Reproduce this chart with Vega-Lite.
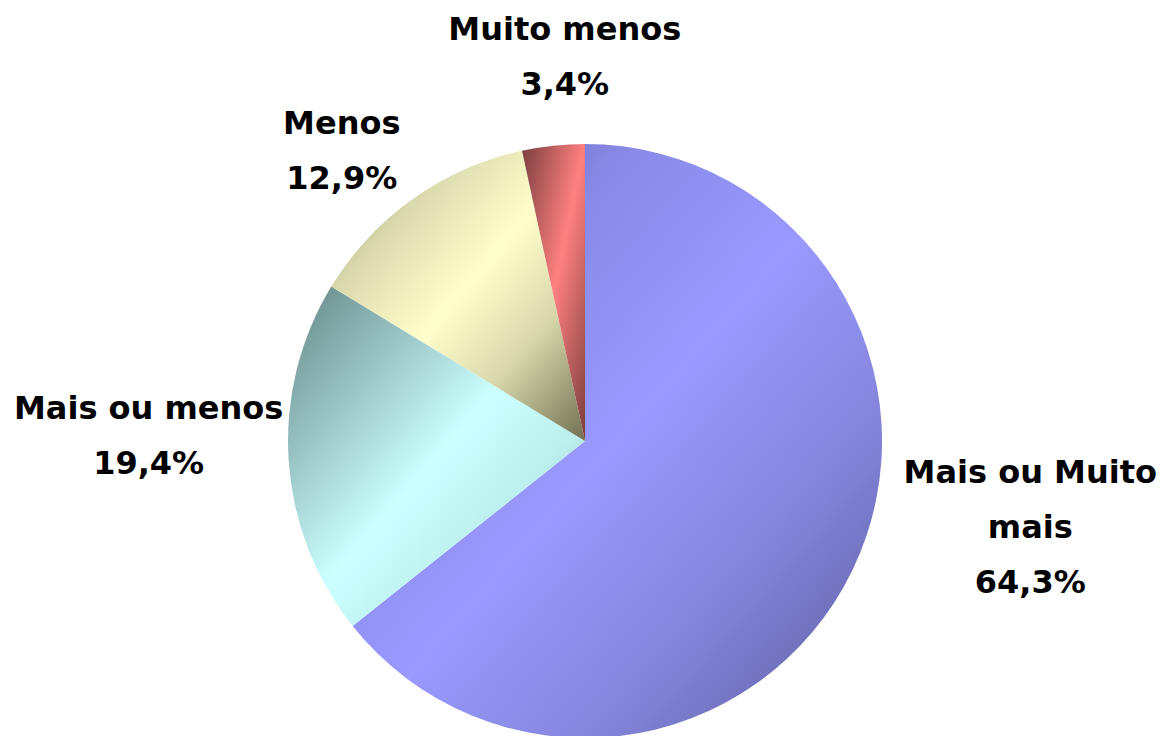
{
  "$schema": "https://vega.github.io/schema/vega-lite/v6.json",
  "autosize": {"type": "none"},
  "width": 1154,
  "height": 590,
  "padding": {"left": 8, "top": 146, "right": 0, "bottom": 0},
  "background": "white",
  "config": {
    "view": {"stroke": null},
    "text": {"font": "DejaVu Sans", "fontWeight": "bold", "fontSize": 32, "lineHeight": 55, "lineBreak": "\n", "color": "black"}
  },
  "data": {
    "values": [
      {"cat": "Mais ou Muito mais", "ord": 1, "value": 64.3, "label": "Mais ou Muito\nmais\n64,3%"},
      {"cat": "Mais ou menos", "ord": 2, "value": 19.4, "label": "Mais ou menos\n19,4%"},
      {"cat": "Menos", "ord": 3, "value": 12.9, "label": "Menos\n12,9%"},
      {"cat": "Muito menos", "ord": 4, "value": 3.4, "label": "Muito menos\n3,4%"}
    ]
  },
  "encoding": {
    "theta": {"field": "value", "type": "quantitative", "stack": true},
    "order": {"field": "ord", "type": "quantitative"}
  },
  "layer": [
    {
      "mark": {"type": "arc", "outerRadius": 297},
      "encoding": {
        "color": {
          "condition": [
            {"test": "datum.cat === 'Mais ou menos'", "value": {"gradient": "linear", "x1": 0, "y1": 0, "x2": 1, "y2": 1, "stops": [{"offset": 0, "color": "#648585"}, {"offset": 0.25, "color": "#98C2C2"}, {"offset": 0.5, "color": "#CCFFFF"}, {"offset": 0.7, "color": "#BDEEEE"}, {"offset": 1, "color": "#8AB5B5"}]}},
            {"test": "datum.cat === 'Menos'", "value": {"gradient": "linear", "x1": 0, "y1": 0, "x2": 1, "y2": 1, "stops": [{"offset": 0, "color": "#8A8A6A"}, {"offset": 0.25, "color": "#DADAAE"}, {"offset": 0.5, "color": "#FFFFCC"}, {"offset": 0.72, "color": "#D8D8AC"}, {"offset": 1, "color": "#707052"}]}},
            {"test": "datum.cat === 'Muito menos'", "value": {"gradient": "linear", "x1": 0, "y1": 0, "x2": 1, "y2": 1, "stops": [{"offset": 0, "color": "#7A3E3E"}, {"offset": 0.5, "color": "#FF8080"}, {"offset": 1, "color": "#7A3E3E"}]}}
          ],
          "value": {"gradient": "linear", "x1": 0, "y1": 0, "x2": 1, "y2": 1, "stops": [{"offset": 0, "color": "#6464AA"}, {"offset": 0.28, "color": "#8A8AEA"}, {"offset": 0.5, "color": "#9999FF"}, {"offset": 0.72, "color": "#8585DD"}, {"offset": 1, "color": "#5A5A98"}]}
        }
      }
    },
    {
      "mark": {"type": "text", "radius": 340, "dx": 139, "dy": -116},
      "encoding": {"text": {"condition": {"test": "datum.cat === 'Mais ou Muito mais'", "field": "label"}, "value": ""}}
    },
    {
      "mark": {"type": "text", "radius": 340, "dx": -97, "dy": -53},
      "encoding": {"text": {"condition": {"test": "datum.cat === 'Mais ou menos'", "field": "label"}, "value": ""}}
    },
    {
      "mark": {"type": "text", "radius": 340, "dx": -46, "dy": -40},
      "encoding": {"text": {"condition": {"test": "datum.cat === 'Menos'", "field": "label"}, "value": ""}}
    },
    {
      "mark": {"type": "text", "radius": 340, "dx": 16, "dy": -73},
      "encoding": {"text": {"condition": {"test": "datum.cat === 'Muito menos'", "field": "label"}, "value": ""}}
    }
  ]
}
